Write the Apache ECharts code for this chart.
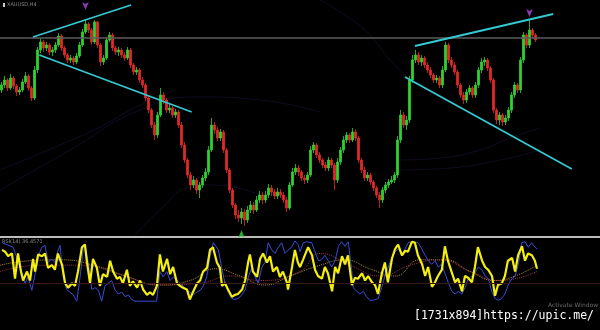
<!DOCTYPE html>
<html><head><meta charset="utf-8">
<script src="https://cdn.jsdelivr.net/npm/echarts@6/dist/echarts.min.js"></script>
<style>html,body{margin:0;padding:0;background:#000;}#c{width:600px;height:330px;}</style>
</head><body><div id="c"></div>
<script>
const slotCount = 200;
const opens = [1910,1915,1920,1912,1922,1914,1908,1910,1918,1924,
 1912,1902,1930,1950,1958,1952,1955,1948,1950,1955,
 1964,1952,1945,1940,1942,1938,1944,1955,1968,1976,
 1970,1958,1978,1955,1938,1942,1960,1965,1952,1948,
 1950,1945,1942,1950,1935,1928,1930,1920,1915,1902,
 1890,1875,1865,1885,1905,1900,1890,1892,1885,1888,
 1875,1855,1840,1825,1815,1820,1810,1815,1822,1828,
 1850,1875,1870,1862,1868,1850,1830,1810,1795,1785,
 1782,1788,1780,1790,1795,1790,1800,1805,1800,1805,
 1812,1808,1804,1808,1805,1800,1792,1815,1828,1832,
 1828,1822,1820,1825,1850,1855,1845,1840,1835,1832,
 1840,1835,1820,1838,1850,1860,1865,1860,1868,1862,
 1840,1830,1822,1825,1818,1812,1805,1800,1810,1815,
 1818,1820,1825,1860,1885,1875,1880,1920,1940,1945,
 1938,1942,1935,1930,1925,1920,1922,1915,1930,1955,
 1940,1935,1928,1915,1905,1900,1908,1912,1905,1915,
 1930,1938,1940,1932,1920,1890,1880,1885,1878,1882,
 1890,1905,1915,1910,1940,1965,1955,1970,1965];
const closes = [1915,1920,1912,1922,1914,1908,1910,1918,1924,1912,
 1902,1930,1950,1958,1952,1955,1948,1950,1955,1964,
 1952,1945,1940,1942,1938,1944,1955,1968,1976,1970,
 1958,1978,1955,1938,1942,1960,1965,1952,1948,1950,
 1945,1942,1950,1935,1928,1930,1920,1915,1902,1890,
 1875,1865,1885,1905,1900,1890,1892,1885,1888,1875,
 1855,1840,1825,1815,1820,1810,1815,1822,1828,1850,
 1875,1870,1862,1868,1850,1830,1810,1795,1785,1782,
 1788,1780,1790,1795,1790,1800,1805,1800,1805,1812,
 1808,1804,1808,1805,1800,1792,1815,1828,1832,1828,
 1822,1820,1825,1850,1855,1845,1840,1835,1832,1840,
 1835,1820,1838,1850,1860,1865,1860,1868,1862,1840,
 1830,1822,1825,1818,1812,1805,1800,1810,1815,1818,
 1820,1825,1860,1885,1875,1880,1920,1940,1945,1938,
 1942,1935,1930,1925,1920,1922,1915,1930,1955,1940,
 1935,1928,1915,1905,1900,1908,1912,1905,1915,1930,
 1938,1940,1932,1920,1890,1880,1885,1878,1882,1890,
 1905,1915,1910,1940,1965,1955,1970,1965,1960];
const lows = [1907,1912,1909,1910,1911,1904,1905,1908,1916,1909,
 1899,1900,1927,1947,1948,1949,1945,1944,1947,1953,
 1949,1942,1937,1937,1935,1936,1942,1953,1966,1967,
 1955,1956,1952,1934,1935,1940,1958,1949,1945,1944,
 1942,1939,1940,1932,1925,1925,1917,1912,1899,1887,
 1872,1860,1862,1883,1896,1887,1887,1882,1882,1872,
 1852,1837,1822,1810,1812,1806,1802,1812,1819,1825,
 1848,1866,1859,1859,1847,1827,1807,1792,1781,1778,
 1776,1774,1777,1787,1786,1788,1797,1796,1797,1802,
 1804,1801,1801,1802,1797,1788,1790,1813,1825,1824,
 1819,1816,1817,1823,1847,1842,1837,1832,1829,1829,
 1832,1810,1817,1835,1847,1857,1857,1858,1859,1837,
 1827,1819,1819,1815,1809,1802,1792,1797,1807,1812,
 1816,1817,1822,1857,1872,1870,1877,1917,1937,1935,
 1934,1932,1927,1922,1917,1917,1912,1912,1928,1937,
 1932,1925,1912,1902,1896,1897,1905,1902,1902,1912,
 1927,1934,1929,1917,1887,1876,1875,1874,1875,1879,
 1887,1902,1907,1907,1937,1952,1952,1962,1958];
const highs = [1918,1924,1922,1926,1924,1916,1913,1921,1928,1926,
 1914,1934,1953,1962,1960,1958,1957,1953,1958,1967,
 1966,1954,1947,1945,1944,1947,1958,1971,1980,1978,
 1972,1980,1979,1957,1945,1963,1968,1967,1954,1953,
 1952,1948,1953,1952,1937,1933,1932,1923,1917,1905,
 1892,1878,1888,1912,1908,1902,1896,1894,1891,1890,
 1878,1858,1842,1828,1824,1822,1818,1825,1832,1854,
 1882,1878,1873,1871,1870,1852,1832,1812,1797,1790,
 1792,1791,1794,1799,1798,1804,1809,1808,1809,1816,
 1815,1811,1812,1811,1808,1803,1818,1832,1836,1835,
 1830,1825,1828,1854,1858,1857,1848,1842,1838,1843,
 1842,1837,1842,1853,1864,1868,1867,1872,1871,1864,
 1842,1833,1828,1827,1820,1814,1808,1813,1818,1821,
 1824,1828,1864,1890,1888,1884,1924,1945,1950,1948,
 1945,1944,1938,1933,1927,1925,1924,1934,1958,1957,
 1943,1938,1930,1917,1908,1911,1915,1914,1918,1933,
 1942,1943,1942,1934,1922,1892,1888,1887,1885,1893,
 1908,1918,1917,1943,1968,1967,1980,1972,1967];

const priceLevel = 1962;
const trendLines = [
  [[10.5,1963],[43.2,1995]],
  [[12.6,1945],[63.4,1888]],
  [[137.8,1954],[183.9,1986]],
  [[134.5,1923],[190.1,1831]]
];
const downArrows = [[28,1990],[176,1983]];
const upArrows = [[80,1770]];
const bands = [
  [[-0.5,1810],[22.8,1850],[46.2,1890],[66.2,1903],[86.2,1900],[106.2,1888]],
  [[-0.5,1830],[19.5,1855],[32.8,1873],[46.2,1895],[57.8,1910]],
  [[44.5,1765],[52.8,1790],[61.8,1812],[71.2,1815],[86.2,1805]],
  [[106.2,2000],[114.5,1985],[122.8,1965],[129.5,1940],[136.2,1920]],
  [[132.8,1840],[146.2,1842],[159.5,1850],[169.5,1862],[179.5,1872]],
  [[132.8,1830],[149.5,1832],[166.2,1840],[179.5,1850]]
];

const yellowOsc = [[0.2,89],[1.2,87],[2.2,82],[3.5,85],[4.5,57],[5.5,85],[6.5,65],[7.2,55],[8.5,65],[9.5,55],[10.5,79],[11.2,65],[12.2,84],[13.5,82],[14.5,85],[15.5,69],[16.8,72],[17.8,67],[18.8,85],[20.2,72],[21.2,52],[22.2,47],[23.5,52],[24.5,49],[25.5,65],[26.8,92],[27.8,95],[28.5,75],[29.5,52],[30.5,79],[31.8,69],[32.8,49],[33.8,62],[35.2,59],[36.2,77],[37.2,65],[38.5,57],[39.5,59],[40.5,52],[41.8,67],[42.8,49],[43.8,54],[45.2,47],[46.2,55],[47.2,45],[48.5,39],
 [49.5,42],[50.5,39],[51.8,49],[52.8,84],[53.8,65],[55.2,79],[56.2,62],[57.2,70],[58.5,52],[59.5,49],[60.5,47],[61.8,45],[62.8,34],[63.8,42],[65.2,52],[66.2,55],[67.2,65],[68.5,69],[69.5,89],[70.5,92],[71.8,75],[72.8,69],[73.5,49],[74.5,52],[75.5,45],[76.8,37],[77.8,39],[78.8,40],[80.2,45],[81.2,55],[82.2,75],[82.8,84],[83.8,65],[85.2,59],[86.2,79],[87.2,85],[88.5,75],[89.5,82],[90.5,65],[91.8,70],[92.8,59],[93.8,65],[95.2,52],[95.5,45],[96.8,69],[97.8,89],[98.8,75],
 [99.5,70],[100.5,78],[102.2,92],[103.5,83],[104.5,67],[105.5,60],[106.8,57],[107.8,70],[108.8,63],[110.2,43],[111.2,70],[112.2,63],[113.5,82],[114.5,73],[115.5,83],[116.8,50],[117.8,58],[118.8,57],[120.2,63],[121.2,55],[122.2,60],[123.5,53],[124.5,50],[125.5,40],[126.8,63],[127.8,75],[128.8,53],[130.2,80],[131.2,90],[132.2,95],[133.5,83],[134.5,88],[135.5,87],[136.8,98],[137.8,97],[138.8,83],[140.2,73],[141.2,60],[142.2,70],[143.5,48],[144.5,53],[145.5,60],[146.8,67],[147.8,93],[148.8,77],[150.2,63],[151.2,53],[152.2,57],[153.5,43],[154.5,60],[155.5,58],[156.8,53],[157.8,70],[158.8,92],[160.2,77],[161.2,70],[162.2,67],[163.5,60],[164.5,38],[165.5,50],[166.8,52],[167.8,60],[168.8,77],[170.2,80],[171.2,65],[172.2,83],[173.5,93],[174.5,77],[175.5,85],[176.8,83],[177.8,77],[178.5,68]];

const blueOsc = [[0.1,97],[1.7,95],[3.9,92],[6.2,69],[7.8,52],[8.9,59],[10.1,44],[11.2,62],[12.3,82],[13.4,92],[14.5,94],[15.6,75],[16.7,79],[17.8,75],[18.9,89],[19.5,94],[20.6,59],[21.7,45],[22.8,42],[23.9,39],[25.1,32],[26.2,59],[27.3,92],[27.8,95],[28.9,75],[30.1,45],[31.2,47],[32.3,44],[33.4,32],[34.5,49],[35.6,52],[36.7,55],[37.8,45],[38.9,40],[40.1,42],[41.2,37],[42.3,39],[43.4,34],[44.5,32],[46.2,32],[48.4,32],
 [49.5,32],[51.7,32],[52.8,65],[53.9,59],[55.1,65],[56.2,55],[57.3,59],[59.5,52],[61.7,45],[63.9,39],[65.1,42],[66.2,44],[67.3,49],[68.4,59],[69.5,82],[70.6,97],[71.2,99],[72.3,89],[73.4,69],[74.5,52],[75.6,42],[76.7,35],[77.8,34],[78.9,35],[80.1,39],[81.2,45],[82.3,59],[83.4,69],[84.5,59],[85.6,52],[86.7,69],[87.8,75],[88.9,97],[90.1,89],[91.2,85],[92.3,92],[93.4,97],[94.5,85],[95.6,89],[96.7,92],[97.8,99],[98.9,95],
 [99.5,87],[100.6,97],[101.7,98],[103.4,97],[104.5,87],[105.6,77],[106.7,78],[107.8,83],[108.9,77],[110.1,70],[111.2,77],[112.3,93],[113.4,98],[114.5,93],[115.6,98],[116.7,67],[117.3,47],[118.4,43],[119.5,40],[120.6,43],[121.7,37],[122.8,33],[123.9,33],[125.6,35],[126.7,47],[127.8,60],[128.9,70],[130.1,80],[131.2,87],[132.3,90],[133.4,83],[134.5,90],[135.6,97],[136.7,98],[137.8,98],[138.9,97],[140.1,90],[141.2,83],[142.3,77],[143.4,73],[144.5,77],[145.6,70],[146.7,73],[147.8,63],[148.9,53],[150.1,43],[151.2,40],[152.3,43],[153.4,40],[154.5,47],[155.6,57],[156.7,60],[157.8,63],[158.9,70],[160.1,67],[161.2,60],[162.3,57],[163.4,43],[164.5,35],[165.6,33],[166.7,35],[167.8,40],[168.9,50],[170.1,57],[171.2,60],[172.3,73],[173.4,97],[174.5,98],[175.6,92],[176.7,97],[177.8,92],[178.6,90]];

const orangeMA = [[-0.5,72],[9.5,77],[19.5,78],[32.8,70],[42.8,58],[52.8,50],[62.8,55],[71.2,68],[79.5,60],[87.8,50],[96.2,60],[106.2,72],[114.5,78],[122.8,68],[131.2,60],[139.5,78],[147.8,78],[156.2,65],[164.5,55],[171.2,60],[178.5,72]];
const redMA = [[-0.5,65],[12.8,72],[26.2,72],[39.5,62],[52.8,50],[66.2,52],[76.2,60],[86.2,55],[99.5,65],[106.2,85],[116.2,72],[126.2,60],[136.2,72],[146.2,78],[156.2,65],[166.2,55],[178.5,65]];
const oscLevel = 52;

const categories = Array.from({length: slotCount}, (_, i) => String(i));
const candleData = opens.map((o, i) => [o, closes[i], lows[i], highs[i]]);

const chart = echarts.init(document.getElementById('c'), null, {renderer: 'canvas'});
const series = [];
bands.forEach(b => series.push({type:'line', xAxisIndex:1, yAxisIndex:0, data:b, smooth:true, symbol:'none', silent:true,
  lineStyle:{color:'rgba(60,60,150,0.22)', width:1}, z:1}));
series.push({
  type:'candlestick', xAxisIndex:0, yAxisIndex:0, data:candleData, barWidth:2,
  itemStyle:{color:'#2fd12f', color0:'#e02828', borderColor:'#2fd12f', borderColor0:'#e02828', borderWidth:0.8},
  markLine:{symbol:'none', silent:true, label:{show:false}, lineStyle:{color:'#5c5c5c', width:1.5, type:'solid'}, data:[{yAxis:priceLevel}]},
  z:3
});
trendLines.forEach(t => series.push({type:'line', xAxisIndex:1, yAxisIndex:0, data:t, symbol:'none', silent:true,
  lineStyle:{color:'#35c9d2', width:1.8}, z:5}));
series.push({type:'scatter', xAxisIndex:1, yAxisIndex:0, data:downArrows, symbol:'arrow', symbolRotate:180, symbolSize:[5,8],
  itemStyle:{color:'#b04ae0'}, z:6});
series.push({type:'scatter', xAxisIndex:1, yAxisIndex:0, data:upArrows, symbol:'arrow', symbolSize:[5,8],
  itemStyle:{color:'#2fd12f'}, z:6});
series.push({type:'line', xAxisIndex:2, yAxisIndex:1, data:orangeMA, smooth:true, symbol:'none', silent:true,
  lineStyle:{color:'#b08a30', width:1, type:'dotted'}, z:2,
  markLine:{symbol:'none', silent:true, label:{show:false}, lineStyle:{color:'#3a1818', width:1, type:'solid'}, data:[{yAxis:oscLevel}]}});
series.push({type:'line', xAxisIndex:2, yAxisIndex:1, data:redMA, smooth:true, symbol:'none', silent:true,
  lineStyle:{color:'#9a3050', width:1, type:'dotted'}, z:2});
series.push({type:'line', xAxisIndex:2, yAxisIndex:1, data:blueOsc, symbol:'none', silent:true,
  lineStyle:{color:'#3b4bd6', width:1}, z:3});
series.push({type:'line', xAxisIndex:2, yAxisIndex:1, data:yellowOsc, symbol:'none', silent:true,
  lineStyle:{color:'#f4ee10', width:2.2}, z:4});

chart.setOption({
  backgroundColor:'#000000',
  animation:false,
  grid:[
    {left:0, right:0, top:0, height:236},
    {left:0, right:0, top:240, height:100}
  ],
  xAxis:[
    {type:'category', gridIndex:0, data:categories, show:false, boundaryGap:true},
    {type:'value', gridIndex:0, min:-0.5, max:slotCount-0.5, show:false},
    {type:'value', gridIndex:1, min:-0.5, max:slotCount-0.5, show:false}
  ],
  yAxis:[
    {type:'value', gridIndex:0, min:1764, max:2000, show:false, splitLine:{show:false}},
    {type:'value', gridIndex:1, min:0, max:100, show:false, splitLine:{show:false}}
  ],
  graphic:[
    {type:'rect', left:0, top:236, shape:{width:600, height:2}, style:{fill:'#bdbdbd'}, silent:true},
    {type:'rect', left:3, top:3, shape:{width:2, height:4}, style:{fill:'#cccccc'}, silent:true},
    {type:'text', left:7, top:2, style:{text:'XAUUSD,H4', fill:'#8a8a8a', font:'5px "DejaVu Sans"'}, silent:true},
    {type:'text', left:2, top:239, style:{text:'RSI(14) 36.4571', fill:'#8a8a8a', font:'5px "DejaVu Sans"'}, silent:true},
    {type:'text', left:548, top:302, style:{text:'Activate Window', fill:'#6a6a6a', font:'6px "DejaVu Sans"'}, silent:true},
    {type:'text', left:414, top:310, style:{text:'[1731x894]https://upic.me/', fill:'#ffffff', font:'11.5px "DejaVu Sans Mono"'}, silent:true}
  ],
  series: series
});
</script></body></html>
